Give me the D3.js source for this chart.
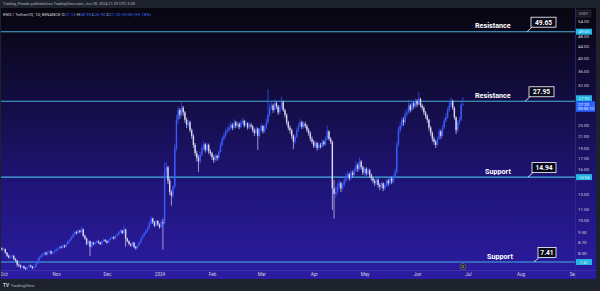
<!DOCTYPE html>
<html>
<head>
<meta charset="utf-8">
<script src="https://cdn.jsdelivr.net/npm/d3@7"></script>
<style>
  html, body { margin: 0; padding: 0; background: #1e222d; }
  svg { display: block; font-family: Roboto, "Open Sans", sans-serif; }
</style>
</head>
<body>
<div id="chart"></div>
<script>
// ENS / TetherUS daily candles (open = previous close)
var firstDay = new Date(2023, 8, 29);
var firstOpen = 8.35;

var closes = [
  8.30, 8.22,
  // Oct
  8.25, 8.0, 7.8, 7.7, 7.72, 7.8, 7.6, 7.5, 7.25, 7.2, 7.1, 7.15, 7.05, 7.0, 7.1, 7.2,
  7.15, 7.05, 7.1, 7.3, 7.5, 7.7, 7.8, 7.9, 8.0, 7.9, 8.05, 8.1, 7.95, 8.0, 8.1,
  // Nov
  8.2, 8.3, 8.4, 8.35, 8.5, 8.4, 8.6, 8.8, 8.9, 9.1, 9.3, 9.5, 9.4, 9.6, 9.5,
  9.7, 9.2, 9.0, 8.6, 8.8, 8.4, 8.7, 8.6, 8.7, 8.8, 8.7, 8.6, 8.8, 8.9, 8.8,
  // Dec
  8.7, 8.9, 9.0, 9.1, 9.0, 9.2, 9.3, 9.5, 9.6, 9.4, 9.7, 9.0, 8.8, 8.6, 8.5, 8.7,
  8.4, 8.3, 8.5, 8.7, 9.0, 9.2, 9.4, 9.6, 9.8, 10.2, 10.6, 10.3, 10.0, 10.4, 10.1,
  // Jan
  9.9, 10.3, 10.2, 15.5, 16.2, 14.5, 13.2, 12.8, 13.8, 19.0, 24.0, 26.0, 25.0, 26.5, 25.5, 24.0,
  23.0, 23.5, 22.0, 21.0, 19.5, 18.2, 17.5, 17.0, 18.0, 19.0, 19.6, 18.7, 19.5, 18.5, 18.2,
  // Feb
  17.6, 17.2, 17.8, 17.5, 18.4, 19.5, 20.5, 21.0, 21.8, 22.0, 22.5, 23.0, 22.4, 23.5, 22.8,
  23.2, 22.6, 23.4, 23.8, 22.9, 23.3, 22.5, 23.0, 22.7, 22.0, 21.5, 22.3, 21.0, 22.0,
  // Mar
  22.8, 21.8, 22.5, 23.5, 25.0, 26.5, 27.0, 26.0, 27.5, 26.8, 25.5, 26.5, 27.8, 26.0, 25.0, 23.5,
  22.5, 22.0, 21.0, 20.0, 20.8, 22.0, 22.8, 23.5, 22.6, 23.2, 22.8, 22.0, 21.5, 20.5, 20.0,
  // Apr
  19.3, 19.8, 19.0, 19.5, 19.2, 20.0, 19.6, 20.5, 21.8, 20.5, 20.0, 13.6, 13.0, 13.2, 13.8,
  14.2, 13.6, 14.0, 14.5, 15.0, 15.3, 14.8, 15.5, 15.2, 15.8, 16.5, 16.0, 17.0, 16.2, 15.5,
  // May
  16.0, 15.4, 15.8, 15.2, 14.8, 14.5, 14.2, 14.6, 14.0, 13.8, 14.2, 13.6, 14.0, 14.5, 14.2, 14.8,
  14.4, 15.0, 15.6, 19.5, 22.0, 22.8, 24.0, 23.5, 25.2, 25.5, 27.0, 26.0, 27.5, 26.8, 28.0,
  // Jun
  27.2, 28.5, 27.0, 26.5, 25.5, 24.8, 24.0, 22.5, 21.5, 20.5, 20.0, 19.5, 20.5, 21.8,
  21.0, 22.5, 23.8, 24.5, 26.0, 27.0, 28.0, 26.5, 24.5, 22.0, 23.5, 24.0, 27.15, 27.2
];

var highs = [
  8.45, 8.36,
  8.34, 8.28, 8.05, 7.88, 7.82, 7.9, 7.84, 7.66, 7.55, 7.32, 7.26, 7.22, 7.2, 7.1, 7.16, 7.28,
  7.25, 7.18, 7.16, 7.36, 7.58, 7.76, 7.88, 7.98, 8.08, 8.04, 8.12, 8.2, 8.14, 8.06, 8.16,
  8.28, 8.38, 8.5, 8.46, 8.58, 8.55, 8.68, 8.9, 9.0, 9.2, 9.4, 9.62, 9.58, 9.72, 9.66,
  9.95, 9.78, 9.28, 9.05, 8.9, 8.85, 8.78, 8.76, 8.78, 8.88, 8.86, 8.76, 8.86, 8.98, 8.96,
  8.86, 8.96, 9.08, 9.18, 9.16, 9.28, 9.4, 9.6, 9.72, 9.66, 10.0, 9.75, 9.06, 8.86, 8.66, 8.78,
  8.74, 8.46, 8.58, 8.78, 9.08, 9.3, 9.5, 9.7, 9.92, 10.35, 10.8, 10.7, 10.4, 10.5, 10.48,
  10.2, 10.45, 10.6, 16.8, 16.9, 16.4, 14.8, 13.4, 14.0, 19.6, 25.0, 26.8, 26.4, 27.7, 26.9, 25.8,
  24.4, 24.0, 23.8, 22.3, 21.3, 19.8, 18.6, 17.9, 18.4, 19.4, 20.1, 19.8, 19.9, 19.7, 18.8,
  18.4, 17.9, 18.1, 18.0, 18.7, 19.9, 20.9, 21.5, 22.3, 22.6, 23.1, 23.6, 23.3, 24.1, 23.8,
  23.7, 23.5, 23.9, 24.4, 24.0, 23.8, 23.5, 23.5, 23.4, 23.0, 22.3, 22.7, 22.5, 22.4,
  23.3, 23.0, 22.9, 24.2, 30.9, 27.4, 27.9, 27.4, 28.3, 27.9, 27.1, 27.0, 29.0, 28.1, 26.3, 25.3,
  23.8, 22.9, 22.3, 21.3, 21.2, 22.5, 23.3, 24.1, 23.8, 23.7, 23.6, 23.1, 22.4, 21.8, 20.9,
  20.3, 20.2, 20.0, 19.9, 19.8, 20.4, 20.3, 20.9, 22.8, 22.0, 20.8, 20.2, 14.6, 13.8, 14.2,
  14.6, 14.4, 14.3, 14.9, 15.4, 15.7, 15.5, 15.8, 15.8, 16.2, 17.0, 16.8, 17.6, 17.2, 16.4,
  16.3, 16.2, 16.1, 16.0, 15.4, 15.0, 14.7, 14.8, 14.8, 14.2, 14.4, 14.3, 14.2, 14.7, 14.7, 15.0,
  15.0, 15.2, 16.0, 20.0, 22.6, 23.5, 24.6, 24.5, 25.9, 26.3, 28.3, 27.4, 28.0, 27.9, 28.6,
  28.4, 30.2, 28.8, 27.4, 26.8, 25.8, 25.1, 24.2, 22.8, 21.8, 20.9, 20.3, 20.9, 22.3,
  22.1, 23.0, 24.3, 25.3, 26.6, 27.8, 28.8, 28.3, 26.8, 24.7, 23.9, 24.6, 27.6, 28.95
];

var lows = [
  8.20, 8.12,
  8.15, 7.95, 7.72, 7.62, 7.6, 7.66, 7.52, 7.42, 7.12, 7.1, 7.02, 7.04, 6.98, 6.92, 6.96, 7.06,
  7.08, 6.98, 7.0, 7.06, 7.26, 7.45, 7.64, 7.74, 7.84, 7.82, 7.86, 7.98, 7.88, 7.9, 7.95,
  8.04, 8.14, 8.24, 8.28, 8.3, 8.32, 8.36, 8.55, 8.7, 8.84, 9.02, 9.22, 9.3, 9.34, 9.4,
  9.45, 9.1, 8.9, 8.5, 8.52, 7.8, 8.34, 8.5, 8.54, 8.62, 8.62, 8.52, 8.56, 8.72, 8.72,
  8.62, 8.64, 8.84, 8.94, 8.92, 8.96, 9.14, 9.24, 9.42, 9.32, 9.36, 8.4, 8.7, 8.5, 8.4, 8.44,
  8.3, 8.2, 8.26, 8.44, 8.66, 8.94, 9.14, 9.34, 9.52, 9.74, 10.1, 10.15, 9.88, 9.94, 9.98,
  9.76, 9.84, 8.2, 10.1, 14.8, 14.1, 12.9, 11.8, 12.6, 13.6, 18.6, 23.2, 24.2, 24.6, 24.8, 23.4,
  22.4, 22.6, 21.6, 20.5, 19.0, 17.8, 17.0, 15.6, 16.7, 17.7, 18.7, 18.3, 18.4, 18.1, 17.8,
  17.2, 16.8, 17.0, 17.1, 17.3, 18.2, 19.2, 20.2, 20.7, 21.4, 21.7, 22.2, 22.0, 22.2, 22.4,
  22.5, 22.2, 22.4, 23.1, 22.5, 22.6, 22.1, 22.2, 22.3, 21.6, 21.0, 21.2, 18.7, 20.7,
  21.7, 21.4, 21.5, 22.2, 23.2, 24.6, 26.0, 25.4, 25.7, 26.2, 25.0, 25.1, 26.2, 25.6, 24.4, 23.0,
  22.0, 21.4, 20.5, 18.8, 19.6, 20.6, 21.7, 22.5, 22.2, 22.3, 22.4, 21.6, 21.0, 20.1, 19.6,
  19.0, 19.0, 18.6, 18.7, 18.9, 19.0, 19.3, 19.4, 20.3, 20.2, 19.6, 11.4, 10.6, 12.6, 12.9,
  13.5, 13.2, 13.3, 13.8, 14.3, 14.8, 14.5, 14.6, 14.9, 15.0, 15.6, 15.6, 15.8, 15.9, 15.2,
  15.2, 15.1, 15.2, 14.9, 14.5, 14.2, 13.9, 14.0, 13.7, 13.4, 13.6, 13.3, 13.4, 13.8, 13.9, 14.0,
  14.1, 14.2, 14.8, 15.4, 19.2, 21.5, 22.3, 22.8, 23.2, 24.6, 25.2, 25.5, 25.7, 26.2, 26.5,
  26.6, 27.0, 26.5, 25.9, 25.0, 24.2, 23.4, 21.9, 21.0, 20.0, 19.5, 19.0, 19.3, 20.3,
  20.5, 20.8, 22.2, 23.5, 24.2, 25.6, 26.6, 26.0, 24.0, 21.3, 21.7, 23.0, 23.7, 26.9
];

// horizontal levels drawn on the chart
var levels = [49.65, 27.95, 14.94, 7.41];
var levelNames = ["Resistance", "Resistance", "Support", "Support"];

var priceTicks = [54, 48, 44, 40, 36, 32, 23, 21, 19, 17.5, 16, 13, 11.5, 10.5, 9.5, 8.7, 8];
var monthTicks = ["2023-10-01", "2023-11-01", "2023-12-01", "2024-01-01", "2024-02-01", "2024-03-01",
                  "2024-04-01", "2024-05-01", "2024-06-01", "2024-07-01", "2024-08-01", "2024-09-01"];
var monthLabels = ["Oct", "Nov", "Dec", "2024", "Feb", "Mar", "Apr", "May", "Jun", "Jul", "Aug", "Sep"];

var lastPrice = 27.20;
var countdown = "09:00:12";
var legend = {open: 27.15, high: 28.95, low: 26.90, close: 27.20, change: "+0.05 (+0.18%)"};

// layout
var W = 600, H = 291;
var plotLeft = 1, plotRight = 575, plotTop = 8, plotBottom = 270, panelRight = 596, panelBottom = 279;
var labelX = [475, 475, 485, 487];
var boxX = [531, 529, 532, 538];
var boxW = [25, 25, 24, 18];
var leadX = [527, 525, 528, 534];

var upColor = "#3a5bff", downColor = "#d9d5f2", levelColor = "#45b2e0";

var svg = d3.select("#chart").append("svg")
  .attr("width", W)
  .attr("height", H);

var defs = svg.append("defs");
var grad = defs.append("linearGradient")
  .attr("id", "bg")
  .attr("gradientUnits", "userSpaceOnUse")
  .attr("x1", 0).attr("y1", plotTop).attr("x2", 0).attr("y2", panelBottom);
grad.append("stop").attr("offset", 0).attr("stop-color", "#08060f");
grad.append("stop").attr("offset", 0.3).attr("stop-color", "#120c3c");
grad.append("stop").attr("offset", 0.65).attr("stop-color", "#1f1478");
grad.append("stop").attr("offset", 1).attr("stop-color", "#2c1ca2");

defs.append("clipPath").attr("id", "plot")
  .append("rect")
  .attr("x", plotLeft).attr("y", plotTop)
  .attr("width", plotRight - plotLeft).attr("height", plotBottom - plotTop);

svg.append("rect").attr("width", W).attr("height", H).attr("fill", "#1e222d");
svg.append("rect")
  .attr("x", plotLeft).attr("y", plotTop)
  .attr("width", panelRight - plotLeft).attr("height", panelBottom - plotTop)
  .attr("fill", "url(#bg)");

var x = d3.scaleTime()
  .domain([new Date(2023, 9, 1), new Date(2024, 8, 1)])
  .range([3.6, 573]);
var y = d3.scaleLog()
  .domain([levels[3], levels[0]])
  .range([262, 31.7]);

var candles = closes.map(function(c, i) {
  return {
    date: d3.timeDay.offset(firstDay, i),
    open: i ? closes[i - 1] : firstOpen,
    high: highs[i],
    low: lows[i],
    close: c
  };
});

// level lines
var g = svg.append("g").attr("clip-path", "url(#plot)");
g.selectAll("line.level")
  .data(levels)
  .join("line")
    .attr("class", "level")
    .attr("x1", plotLeft).attr("x2", plotRight)
    .attr("y1", function(d) { return y(d); })
    .attr("y2", function(d) { return y(d); })
    .attr("stroke", levelColor)
    .attr("stroke-width", 1.1);

// candles
var bar = g.selectAll("g.candle")
  .data(candles)
  .join("g")
    .attr("class", "candle")
    .attr("fill", function(d) { return d.close >= d.open ? upColor : downColor; })
    .attr("stroke", function(d) { return d.close >= d.open ? upColor : downColor; });
bar.append("line")
  .attr("x1", function(d) { return x(d.date); })
  .attr("x2", function(d) { return x(d.date); })
  .attr("y1", function(d) { return y(Math.max(d.high, d.open, d.close)); })
  .attr("y2", function(d) { return y(Math.min(d.low, d.open, d.close)); })
  .attr("stroke-width", 0.7);
bar.append("rect")
  .attr("stroke", "none")
  .attr("x", function(d) { return x(d.date) - 0.7; })
  .attr("width", 1.4)
  .attr("y", function(d) { return y(Math.max(d.open, d.close)); })
  .attr("height", function(d) { return Math.max(0.7, Math.abs(y(d.open) - y(d.close))); });

// level annotations
var ann = svg.append("g").selectAll("g")
  .data(levels)
  .join("g");
ann.append("text")
  .attr("x", function(d, i) { return labelX[i]; })
  .attr("y", function(d) { return y(d) - 3.4; })
  .attr("fill", "#ffffff")
  .attr("font-size", 7.2)
  .attr("font-weight", "bold")
  .text(function(d, i) { return levelNames[i]; });
ann.append("line")
  .attr("x1", function(d, i) { return leadX[i]; })
  .attr("y1", function(d) { return y(d); })
  .attr("x2", function(d, i) { return boxX[i] + 1; })
  .attr("y2", function(d) { return y(d) - 4.5; })
  .attr("stroke", "#ffffff")
  .attr("stroke-width", 0.8);
ann.append("rect")
  .attr("x", function(d, i) { return boxX[i]; })
  .attr("y", function(d) { return y(d) - 14.5; })
  .attr("width", function(d, i) { return boxW[i]; })
  .attr("height", 10)
  .attr("fill", "#0b0a1c")
  .attr("stroke", "#ffffff")
  .attr("stroke-width", 0.8);
ann.append("text")
  .attr("x", function(d, i) { return boxX[i] + boxW[i] / 2; })
  .attr("y", function(d) { return y(d) - 7.1; })
  .attr("text-anchor", "middle")
  .attr("fill", "#ffffff")
  .attr("font-size", 6.6)
  .attr("font-weight", "bold")
  .text(function(d) { return d.toFixed(2); });

// time axis
svg.append("line")
  .attr("x1", plotLeft).attr("x2", panelRight)
  .attr("y1", plotBottom + 0.5).attr("y2", plotBottom + 0.5)
  .attr("stroke", "#4a3fb8").attr("stroke-width", 0.6);
defs.append("clipPath").attr("id", "xclip")
  .append("rect").attr("x", plotLeft).attr("y", plotBottom).attr("width", plotRight - plotLeft).attr("height", 10);
var xAxis = svg.append("g")
  .attr("clip-path", "url(#xclip)")
  .append("g")
  .attr("transform", "translate(0," + plotBottom + ")")
  .call(d3.axisBottom(x)
    .tickValues(monthTicks.map(function(s) { return d3.timeParse("%Y-%m-%d")(s); }))
    .tickFormat(function(d, i) { return monthLabels[i]; })
    .tickSize(0)
    .tickPadding(3));
xAxis.select(".domain").remove();
xAxis.selectAll("text")
  .attr("fill", "#d1d4dc")
  .attr("font-size", 4.6)
  .attr("font-family", "Roboto, sans-serif");

// price axis
svg.append("line")
  .attr("x1", plotRight + 0.5).attr("x2", plotRight + 0.5)
  .attr("y1", plotTop).attr("y2", panelBottom)
  .attr("stroke", "#3b3490").attr("stroke-width", 0.6);
var yAxis = svg.append("g")
  .attr("transform", "translate(" + plotRight + ",0)")
  .call(d3.axisRight(y)
    .tickValues(priceTicks)
    .tickFormat(d3.format(".2f"))
    .tickSize(0)
    .tickPadding(3));
yAxis.select(".domain").remove();
yAxis.selectAll("text")
  .attr("fill", "#d1d4dc")
  .attr("font-size", 4.4)
  .attr("font-family", "Roboto, sans-serif");

// USDT label
svg.append("rect")
  .attr("x", 576).attr("y", 10).attr("width", 15).attr("height", 7)
  .attr("rx", 1).attr("fill", "#15141f").attr("stroke", "#3a3e4a").attr("stroke-width", 0.5);
svg.append("text")
  .attr("x", 583.5).attr("y", 15)
  .attr("text-anchor", "middle")
  .attr("fill", "#b2b5be").attr("font-size", 4)
  .text("USDT");

// level tags on the price axis
var tagY = levels.map(function(d) { return y(d); });
tagY[1] = tagY[1] - 3;
var tags = svg.append("g").selectAll("g")
  .data(levels)
  .join("g");
tags.append("rect")
  .attr("x", plotRight + 1).attr("width", 16)
  .attr("y", function(d, i) { return tagY[i] - 3; })
  .attr("height", 6)
  .attr("fill", "#27b3e3");
tags.append("text")
  .attr("x", plotRight + 9)
  .attr("y", function(d, i) { return tagY[i] + 1.6; })
  .attr("text-anchor", "middle")
  .attr("fill", "#dff4ff")
  .attr("font-size", 4.4)
  .text(function(d) { return d.toFixed(2); });

// last price tag
svg.append("rect")
  .attr("x", plotRight + 1).attr("y", tagY[1] + 3)
  .attr("width", 19).attr("height", 10.5)
  .attr("fill", "#2962ff");
svg.append("text")
  .attr("x", plotRight + 3).attr("y", tagY[1] + 7.3)
  .attr("fill", "#ffffff").attr("font-size", 4.4)
  .text(lastPrice.toFixed(2));
svg.append("text")
  .attr("x", plotRight + 3).attr("y", tagY[1] + 12)
  .attr("fill", "#ffffff").attr("font-size", 4.2)
  .text(countdown);

// event marker under the last candle
svg.append("circle")
  .attr("cx", x(candles[candles.length - 1].date))
  .attr("cy", 266.5).attr("r", 3)
  .attr("fill", "#1b1a2a").attr("stroke", "#9598a1").attr("stroke-width", 0.5);
svg.append("text")
  .attr("x", x(candles[candles.length - 1].date)).attr("y", 268)
  .attr("text-anchor", "middle").attr("fill", "#d1d4dc").attr("font-size", 3.8)
  .text("D");

// header and legend
svg.append("text")
  .attr("x", 3).attr("y", 5.4)
  .attr("fill", "#b2b5be").attr("font-size", 3.9)
  .text("Trading_Finado published on TradingView.com, Jun 28, 2024 21:29 UTC-5:30");
var lg = svg.append("text")
  .attr("x", 3).attr("y", 15.5)
  .attr("font-size", 4.4)
  .attr("fill", "#d1d4dc");
lg.append("tspan").text("ENS / TetherUS, 1D, BINANCE  ");
[["O", legend.open], ["H", legend.high], ["L", legend.low], ["C", legend.close]].forEach(function(p) {
  lg.append("tspan").attr("fill", "#d1d4dc").text(" " + p[0]);
  lg.append("tspan").attr("fill", "#3d6cff").text(p[1].toFixed(2));
});
lg.append("tspan").attr("fill", "#3d6cff").text(" " + legend.change);

// footer
svg.append("text")
  .attr("x", 3).attr("y", 287)
  .attr("fill", "#d1d4dc").attr("font-size", 4.6).attr("font-weight", "bold")
  .text("TV");
svg.append("text")
  .attr("x", 10.5).attr("y", 287)
  .attr("fill", "#b2b5be").attr("font-size", 4.4)
  .text("TradingView");
</script>
</body>
</html>
